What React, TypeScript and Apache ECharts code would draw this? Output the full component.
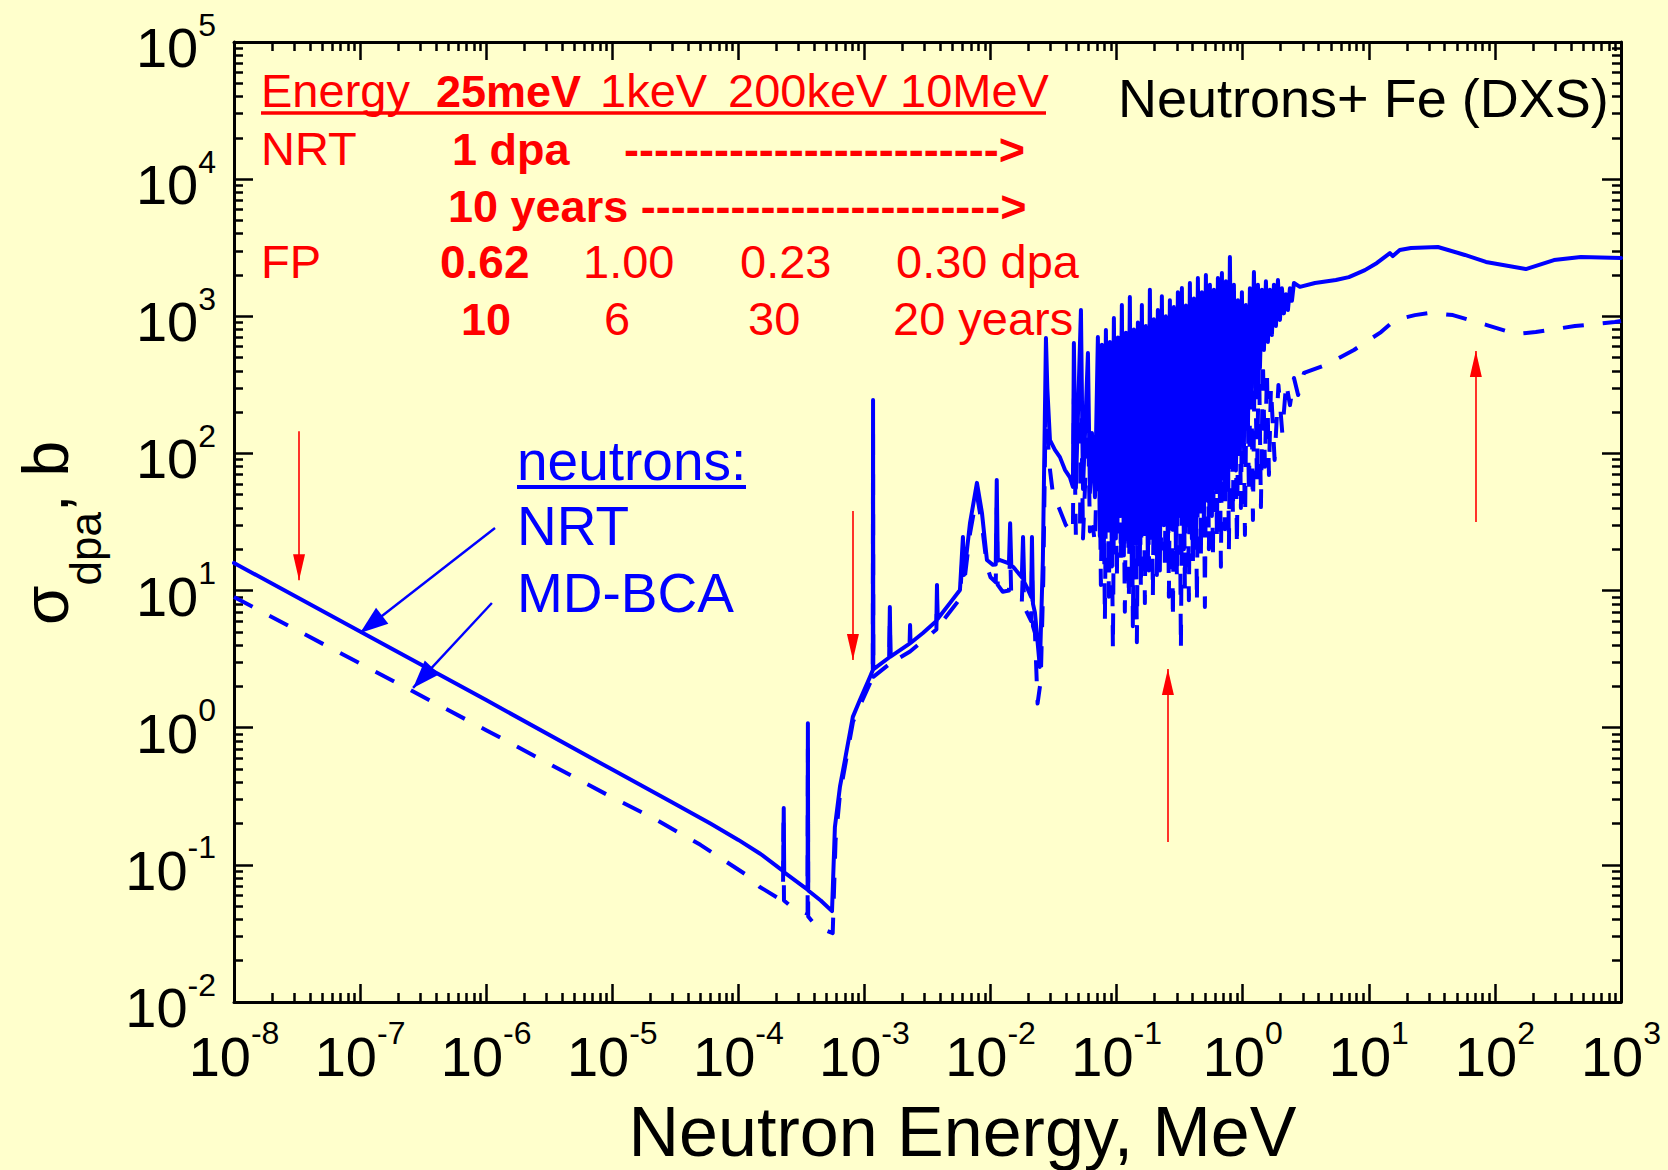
import React, { useEffect, useRef } from 'react';
import * as echarts from 'echarts';

// ---------------- data (energy in MeV, sigma_dpa in barn) ----------------
// NRT (solid line)
const nrtThermal: [number, number][] = [
  [1e-8, 15.9], [1e-7, 5.03], [1e-6, 1.59], [1e-5, 0.495], [3e-5, 0.285], [6e-5, 0.2], [1e-4, 0.152],
  [1.5e-4, 0.12], [2.27e-4, 0.09], [2.29e-4, 0.26], [2.31e-4, 0.088],
  [3.54e-4, 0.066], [3.56e-4, 1.08], [3.58e-4, 0.065], [4.5e-4, 0.055], [5.53e-4, 0.046],
];
const nrtResolved: [number, number][] = [
  [5.83e-4, 0.189], [6.39e-4, 0.37], [7.0e-4, 0.58], [8.09e-4, 1.2], [9.2e-4, 1.59], [1.105e-3, 2.34],
  [1.165e-3, 2.63], [1.17e-3, 245], [1.175e-3, 2.66], [1.57e-3, 3.25], [1.59e-3, 7.6], [1.61e-3, 3.3],
  [2.28e-3, 4.1], [2.3e-3, 5.6], [2.32e-3, 4.15], [2.91e-3, 4.9], [3.72e-3, 6.0], [3.76e-3, 11], [3.8e-3, 6.2],
  [4.76e-3, 8.1], [5.72e-3, 10.1], [6.04e-3, 24.6], [6.15e-3, 13], [6.38e-3, 17], [6.87e-3, 31], [7.8e-3, 61],
  [8.55e-3, 36.8], [9.36e-3, 16.7], [1.045e-2, 15.4], [1.1e-2, 15.5], [1.12e-2, 64], [1.14e-2, 17],
  [1.19e-2, 16.7], [1.4e-2, 15.8], [1.43e-2, 31], [1.46e-2, 15.2], [1.51e-2, 14.9], [1.77e-2, 12.5],
  [1.81e-2, 24.6], [1.85e-2, 11.5], [1.94e-2, 10.6], [2.1e-2, 9], [2.13e-2, 24.6], [2.17e-2, 8],
  [2.25e-2, 6.9], [2.46e-2, 2.77], [2.6e-2, 16.7], [2.75e-2, 695], [2.82e-2, 300], [2.96e-2, 125],
  [3.24e-2, 106], [3.55e-2, 94], [3.89e-2, 76], [4.26e-2, 67], [4.5e-2, 57], [4.58e-2, 638], [4.75e-2, 56],
  [5.21e-2, 1110], [5.41e-2, 55], [5.92e-2, 540], [6.14e-2, 52], [6.37e-2, 141], [6.73e-2, 48],
];
const nrtDense: [number, number][] = [
  [0.071, 706], [0.0736, 25], [0.0764, 620], [0.0792, 20], [0.0822, 794], [0.0852, 28], [0.0884, 650],
  [0.0917, 15], [0.0951, 970], [0.0986, 24], [0.1023, 700], [0.1061, 35], [0.11, 1210], [0.1141, 18],
  [0.1184, 760], [0.1228, 28], [0.1273, 1380], [0.1321, 12], [0.137, 800], [0.1421, 22], [0.1474, 900],
  [0.1528, 16], [0.1585, 1210], [0.1644, 26], [0.1705, 850], [0.1769, 15], [0.1835, 1560], [0.1903, 30],
  [0.1974, 950], [0.2047, 20], [0.2123, 1110], [0.2202, 14], [0.2284, 1400], [0.2369, 30], [0.2457, 1000],
  [0.2549, 18], [0.2644, 1310], [0.2742, 28], [0.2844, 1170], [0.295, 20], [0.306, 1500], [0.3174, 35],
  [0.3292, 1610], [0.3414, 20], [0.3541, 1200], [0.3673, 32], [0.381, 1750], [0.3951, 24], [0.4098, 1350],
  [0.4251, 22], [0.4409, 1900], [0.4573, 40], [0.4743, 1500], [0.492, 30], [0.5103, 2000], [0.5293, 45],
  [0.549, 1700], [0.5694, 35], [0.5906, 1560], [0.6126, 55], [0.6354, 1900], [0.659, 45], [0.6836, 2070],
  [0.709, 65], [0.7354, 1800], [0.7628, 55], [0.7912, 2710], [0.8206, 80], [0.8512, 1700], [0.8828, 75],
  [0.9157, 1310], [0.9498, 100], [0.9851, 1500], [1.022, 120], [1.06, 1210], [1.099, 150], [1.14, 1600],
  [1.183, 300], [1.227, 2100], [1.272, 343], [1.32, 1700], [1.369, 420], [1.42, 1560], [1.473, 568],
  [1.527, 1800], [1.584, 650], [1.643, 1560], [1.704, 731], [1.768, 1700], [1.834, 850], [1.902, 1840],
  [1.973, 940], [2.046, 1600], [2.122, 1050], [2.201, 1450], [2.283, 1110], [2.368, 1600], [2.456, 1300],
  [2.548, 1750],
];
const nrtFast: [number, number][] = [
  [2.84, 1640], [3.74, 1750], [5.48, 1840], [6.95, 1930], [9.31, 2170], [11.6, 2450], [14.7, 2890],
  [15.5, 2750], [17.6, 3040], [21.6, 3150], [35.3, 3200], [57.8, 2800], [84.9, 2490], [176, 2210],
  [294, 2570], [481, 2710], [1000, 2660],
];

// MD-BCA (dashed line)
const mdThermal: [number, number][] = [
  [1e-8, 8.97], [1e-7, 2.94], [1e-6, 0.96], [1e-5, 0.31], [2.1e-5, 0.22], [5e-5, 0.14], [1.23e-4, 0.0815],
  [1.48e-4, 0.069], [2.02e-4, 0.058], [2.26e-4, 0.062], [2.28e-4, 0.2], [2.3e-4, 0.055], [2.71e-4, 0.0484],
  [3.54e-4, 0.044], [3.56e-4, 0.7], [3.58e-4, 0.042], [4.2e-4, 0.0352], [5.6e-4, 0.0318],
];
const mdResolved: [number, number][] = [
  [5.9e-4, 0.15], [6.4e-4, 0.33], [7.0e-4, 0.52], [8.1e-4, 1.1], [9.2e-4, 1.45], [1.105e-3, 2.1],
  [1.165e-3, 2.3], [1.17e-3, 150], [1.175e-3, 2.35], [1.57e-3, 2.9], [1.59e-3, 6], [1.61e-3, 2.95],
  [2.3e-3, 3.6], [2.91e-3, 4.3], [3.72e-3, 5.2], [3.76e-3, 9], [3.8e-3, 5.4], [4.76e-3, 7.0], [5.72e-3, 8.7],
  [6.04e-3, 20], [6.15e-3, 11], [6.87e-3, 26], [7.8e-3, 50], [8.55e-3, 30], [9.36e-3, 15], [1.0e-2, 12.5],
  [1.1e-2, 11.5], [1.12e-2, 40], [1.14e-2, 11], [1.25e-2, 9.8], [1.4e-2, 10], [1.43e-2, 20], [1.46e-2, 9],
  [1.77e-2, 8.2], [1.81e-2, 15], [1.85e-2, 7.6], [2.1e-2, 6], [2.13e-2, 15], [2.17e-2, 5.5], [2.25e-2, 4.9],
  [2.36e-2, 1.5], [2.5e-2, 2.2], [2.62e-2, 12], [2.75e-2, 300], [2.82e-2, 140], [2.96e-2, 76], [3.13e-2, 50],
  [3.42e-2, 42], [3.96e-2, 30], [4.5e-2, 26], [4.58e-2, 250], [4.75e-2, 25], [5.12e-2, 24.6], [5.21e-2, 400],
  [5.41e-2, 24], [5.92e-2, 200], [6.14e-2, 27], [6.49e-2, 29], [6.73e-2, 22],
];
const mdDense: [number, number][] = [
  [0.0723, 290], [0.075, 11], [0.0778, 200], [0.0807, 6], [0.0837, 343], [0.0868, 9], [0.09, 250],
  [0.0934, 3.7], [0.0968, 405], [0.1004, 12], [0.1042, 300], [0.108, 16.7], [0.1121, 245], [0.1162, 7],
  [0.1206, 380], [0.125, 8.5], [0.1297, 480], [0.1345, 5.5], [0.1395, 330], [0.1447, 4.2], [0.1501, 316],
  [0.1557, 10], [0.1615, 450], [0.1675, 8.1], [0.1737, 568], [0.1802, 14], [0.1869, 420], [0.1938, 9],
  [0.201, 618], [0.2085, 13], [0.2163, 500], [0.2243, 20], [0.2326, 405], [0.2413, 14.9], [0.2503, 550],
  [0.2596, 9], [0.2693, 522], [0.2793, 6.1], [0.2897, 460], [0.3005, 12], [0.3117, 568], [0.3233, 3.7],
  [0.3353, 600], [0.3477, 10], [0.3607, 672], [0.3741, 8.5], [0.388, 540], [0.4024, 15], [0.4174, 618],
  [0.433, 8.1], [0.4491, 700], [0.4658, 18], [0.4831, 731], [0.5011, 7.6], [0.5197, 650], [0.5391, 20],
  [0.5591, 672], [0.5799, 16.7], [0.6015, 760], [0.6239, 25], [0.6471, 731], [0.6712, 14.9], [0.6962, 794],
  [0.7221, 28], [0.749, 850], [0.7769, 19.8], [0.8058, 940], [0.8358, 35], [0.8669, 800], [0.8991, 20.8],
  [0.9326, 672], [0.9673, 40], [1.003, 700], [1.041, 25.4], [1.079, 618], [1.12, 50], [1.161, 700],
  [1.205, 32.7], [1.249, 731], [1.296, 60], [1.344, 600], [1.394, 40.6], [1.446, 480], [1.5, 80],
  [1.556, 400], [1.614, 69.7], [1.674, 305], [1.79, 89.6], [1.92, 316], [2.06, 141], [2.21, 327],
  [2.37, 225], [2.55, 355], [2.75, 267],
];
const mdFast: [number, number][] = [
  [3.06, 386], [4.57, 442], [7.62, 568], [12.5, 767], [16.1, 940], [23.2, 1020], [31.1, 1060],
  [46.4, 1020], [86.4, 863], [147, 743], [211, 767], [431, 849], [895, 908], [1000, 925],
];

// axis decades (tick labels 10^n)
const xDecades = [1e-8, 1e-7, 1e-6, 1e-5, 1e-4, 1e-3, 1e-2, 1e-1, 1, 10, 100, 1000];
const yDecades = [1e-2, 1e-1, 1, 10, 100, 1000, 1e4, 1e5];

// red marker arrows: [energy, sigma start, sigma tip]
const markerArrows: [number, number, number][] = [
  [3.28e-8, 145, 11.9],
  [8.1e-4, 38, 3.12],
  [0.255, 0.147, 2.68],
  [70.6, 31.6, 558],
];
// blue legend arrows: [[E, sigma] start, [E, sigma] tip]
const legendArrows: [[number, number], [number, number]][] = [
  [[1.175e-6, 28.6], [1.0e-7, 4.91]],
  [[1.11e-6, 8.11], [2.63e-7, 1.95]],
];

// ---------------- styling ----------------
const BG = '#ffffcc';
const BLUE = '#0000ff';
const RED = '#ff0000';
const FONT = '"Liberation Sans", Arial, Helvetica, sans-serif';

const minorOf = (decades: number[]) => {
  const out: number[] = [];
  for (let i = 0; i < decades.length - 1; i++) {
    for (let m = 2; m <= 9; m++) out.push(m * decades[i]);
  }
  return out;
};

const expLabel = (v: number) => `{b|10}{e|${Math.round(Math.log10(v))}}`;
const tickRich = {
  b: { fontSize: 56, lineHeight: 67, verticalAlign: 'bottom', color: '#000', fontFamily: FONT },
  e: { fontSize: 32, lineHeight: 32, verticalAlign: 'top', color: '#000', fontFamily: FONT },
};

function txt(x: number, baseline: number, text: string, size: number, color: string, bold = false) {
  return {
    type: 'text',
    x,
    y: baseline - 0.347 * size,
    silent: true,
    style: {
      text,
      fill: color,
      fontSize: size,
      fontWeight: bold ? 'bold' : 'normal',
      fontFamily: FONT,
      textAlign: 'left',
      textVerticalAlign: 'middle',
    },
  };
}
function hline(x1: number, x2: number, y: number, color: string, w: number) {
  return { type: 'line', silent: true, shape: { x1, y1: y, x2, y2: y }, style: { stroke: color, lineWidth: w } };
}

function xAxisDef(position: 'top' | 'bottom', major: boolean, labeled: boolean) {
  const a: any = {
    type: 'log', logBase: 10, min: 1e-8, max: 1e3, position, gridIndex: 0, silent: true,
    splitLine: { show: false }, minorTick: { show: false }, minorSplitLine: { show: false },
    axisLine: { show: major, onZero: false, lineStyle: { color: '#000', width: 3 } },
    axisTick: { show: true, inside: true, length: major ? 18 : 9, lineStyle: { color: '#000', width: 2.5 },
      customValues: major ? xDecades : minorOf(xDecades) },
    axisLabel: { show: false },
  };
  if (labeled) {
    a.axisLabel = { show: true, customValues: xDecades, formatter: expLabel, rich: tickRich, margin: 15,
      showMinLabel: true, showMaxLabel: true };
    a.name = 'Neutron Energy, MeV';
    a.nameLocation = 'middle';
    a.nameGap = 95;
    a.nameTextStyle = { fontSize: 70, lineHeight: 70, color: '#000', fontFamily: FONT, padding: [0, 0, 0, 70] };
  }
  return a;
}
function yAxisDef(position: 'left' | 'right', major: boolean, labeled: boolean) {
  const a: any = {
    type: 'log', logBase: 10, min: 1e-2, max: 1e5, position, gridIndex: 0, silent: true,
    splitLine: { show: false }, minorTick: { show: false }, minorSplitLine: { show: false },
    axisLine: { show: major, onZero: false, lineStyle: { color: '#000', width: 3 } },
    axisTick: { show: true, inside: true, length: major ? 19 : 9, lineStyle: { color: '#000', width: 2.5 },
      customValues: major ? yDecades : minorOf(yDecades) },
    axisLabel: { show: false },
  };
  if (labeled) {
    a.axisLabel = { show: true, customValues: yDecades, formatter: expLabel, rich: tickRich, margin: 18,
      showMinLabel: true, showMaxLabel: true };
    a.name = '{s|σ}{d|dpa}{s|, b}';
    a.nameLocation = 'middle';
    a.nameRotate = 90;
    a.nameGap = 127;
    a.nameTextStyle = {
      padding: [0, 22, 0, 0],
      rich: {
        s: { fontSize: 64, lineHeight: 93, verticalAlign: 'top', color: '#000', fontFamily: FONT },
        d: { fontSize: 44, lineHeight: 44, verticalAlign: 'bottom', color: '#000', fontFamily: FONT },
      },
    };
  }
  return a;
}

function buildOption() {
  const nrt = [...nrtThermal, ...nrtResolved, ...nrtDense, ...nrtFast];
  const md = [...mdThermal, ...mdResolved, ...mdDense, ...mdFast];

  const arrowData: any[] = [];
  markerArrows.forEach(([e, s0, s1]) => {
    arrowData.push([
      { coord: [e, s0], symbol: 'none', lineStyle: { color: RED, width: 1.6, type: 'solid' } },
      { coord: [e, s1], symbol: 'triangle', symbolSize: [12, 26], symbolOffset: [0, 13], itemStyle: { color: RED } },
    ]);
  });
  legendArrows.forEach(([p0, p1]) => {
    arrowData.push([
      { coord: p0, symbol: 'none', lineStyle: { color: BLUE, width: 2.4, type: 'solid' } },
      { coord: p1, symbol: 'triangle', symbolSize: [20, 28], symbolOffset: [0, 14], itemStyle: { color: BLUE } },
    ]);
  });

  const elements: any[] = [
    // red table
    txt(261, 107, 'Energy', 47, RED), txt(436, 107, '25meV', 45, RED, true), txt(600, 107, '1keV', 47, RED),
    txt(728, 107, '200keV', 47, RED), txt(900, 107, '10MeV', 47, RED),
    hline(261, 1046, 113, RED, 3.5),
    txt(261, 165, 'NRT', 47, RED), txt(452, 165, '1 dpa', 45, RED, true),
    txt(624, 165, '------------------------->', 45, RED, true),
    txt(448, 222, '10 years ------------------------>', 45, RED, true),
    txt(261, 278, 'FP', 47, RED), txt(440, 278, '0.62', 46, RED, true), txt(583, 278, '1.00', 47, RED),
    txt(740, 278, '0.23', 47, RED), txt(896, 278, '0.30 dpa', 47, RED),
    txt(461, 335, '10', 45, RED, true), txt(604, 335, '6', 47, RED), txt(748, 335, '30', 47, RED),
    txt(893, 335, '20 years', 47, RED),
    // title
    txt(1118, 117, 'Neutrons+ Fe (DXS)', 54, '#000'),
    // blue legend text
    txt(517, 480, 'neutrons:', 55, BLUE), hline(517, 746, 487, BLUE, 4),
    txt(517, 545, 'NRT', 55, BLUE),
    txt(517, 612, 'MD-BCA', 55, BLUE),
  ];

  return {
    animation: false,
    backgroundColor: BG,
    textStyle: { fontFamily: FONT },
    grid: { left: 234, right: 47, top: 42, bottom: 168, containLabel: false, outerBoundsMode: 'none' },
    xAxis: [
      xAxisDef('bottom', true, true),
      xAxisDef('bottom', false, false),
      xAxisDef('top', true, false),
      xAxisDef('top', false, false),
    ],
    yAxis: [
      yAxisDef('left', true, true),
      yAxisDef('left', false, false),
      yAxisDef('right', true, false),
      yAxisDef('right', false, false),
    ],
    series: [
      {
        type: 'line', name: 'NRT', xAxisIndex: 0, yAxisIndex: 0, data: nrt,
        showSymbol: false, symbol: 'none', silent: true, z: 3,
        lineStyle: { color: BLUE, width: 4, cap: 'round', join: 'round' },
        markLine: {
          silent: true, animation: false, symbol: ['none', 'triangle'],
          label: { show: false }, emphasis: { disabled: true },
          data: arrowData,
        },
      },
      {
        type: 'line', name: 'MD-BCA', xAxisIndex: 0, yAxisIndex: 0, data: md,
        showSymbol: false, symbol: 'none', silent: true, z: 2,
        lineStyle: { color: BLUE, width: 4, type: [21, 19], cap: 'butt', join: 'round' },
      },
    ],
    graphic: { elements },
  };
}

export default function App() {
  const ref = useRef<HTMLDivElement>(null);
  useEffect(() => {
    document.body.style.margin = '0';
    document.body.style.background = BG;
    if (!ref.current) return;
    const chart = echarts.init(ref.current, undefined, { renderer: 'svg' });
    chart.setOption(buildOption() as any);
    return () => chart.dispose();
  }, []);
  return (
    <div
      ref={ref}
      style={{ position: 'absolute', left: 0, top: 0, width: 1668, height: 1170, background: BG }}
    />
  );
}
